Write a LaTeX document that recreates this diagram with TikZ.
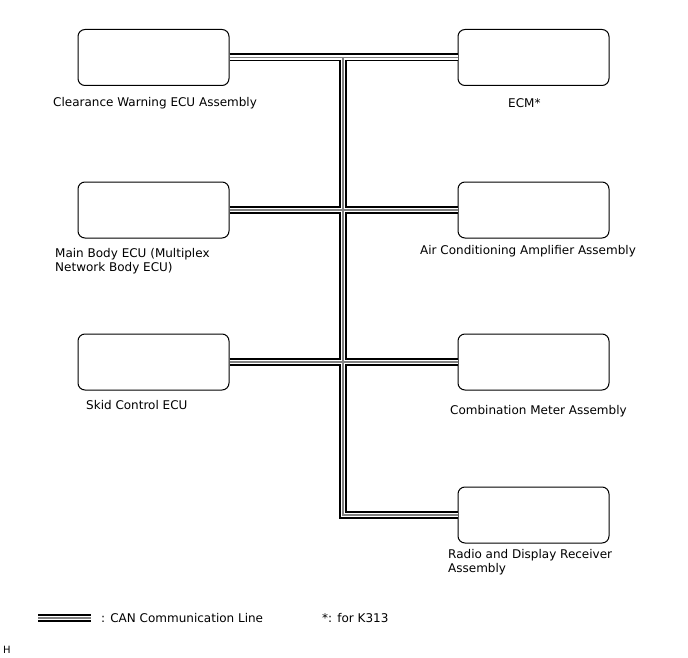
\documentclass[tikz,border=0pt]{standalone}
\usepackage{fontspec}
\setmainfont{DejaVu Sans}
\usetikzlibrary{positioning}

\begin{document}
\begin{tikzpicture}[x=1pt, y=-1pt, font=\fontsize{12}{14}\selectfont,
        ecu/.style={draw, rounded corners=7pt, minimum width=151pt, minimum height=56pt, line width=1pt},
        lbl/.style={anchor=west, align=left, inner sep=0pt}]
        \useasboundingbox (0,0) rectangle (688,658);
        % control units
        \foreach \name/\x/\y in {cw/153.5/57.5, mb/153.5/210, sc/153.5/362,
            ecm/533.5/57.5, ac/533.5/210, cm/533.5/362, rd/533.5/515}
        {
            \node[ecu] (\name) at (\x,\y) {};
        }
        \node[lbl] (cwl) at (53,103) {Clearance Warning ECU Assembly};
        \node[lbl] (mbl) at (55,261) {Main Body ECU (Multiplex\\Network Body ECU)};
        \node[lbl] (scl) at (86,405) {Skid Control ECU};
        \node[lbl] (ecml) at (508,103) {ECM*};
        \node[lbl] (acl) at (420,251) {Air Conditioning Amplifier Assembly};
        \node[lbl] (cml) at (450,411) {Combination Meter Assembly};
        \node[lbl] (rdl) at (448,562) {Radio and Display Receiver\\Assembly};
        % CAN bus
        \coordinate (bustop) at (343,57.5);
        \coordinate (lgA) at (38,618);
        \coordinate (lgB) at (91,618);
        \foreach \w/\c in {8/black, 4.5/white, 1.2/gray}
        {
            \draw[line width=\w pt, \c] (cw.east) -- (ecm.west) (mb.east) -- (ac.west)
                (sc.east) -- (cm.west) (bustop) |- (rd.west) (lgA) -- (lgB);
        }
        % legend
        \node[lbl] (lgtxt) at (101,618) {: CAN Communication Line};
        \node[lbl] (note) at (322,618) {*: for K313};
        \node[lbl, font=\fontsize{10}{12}\selectfont] (fig) at (3,650) {H};
    \end{tikzpicture}
\end{document}
